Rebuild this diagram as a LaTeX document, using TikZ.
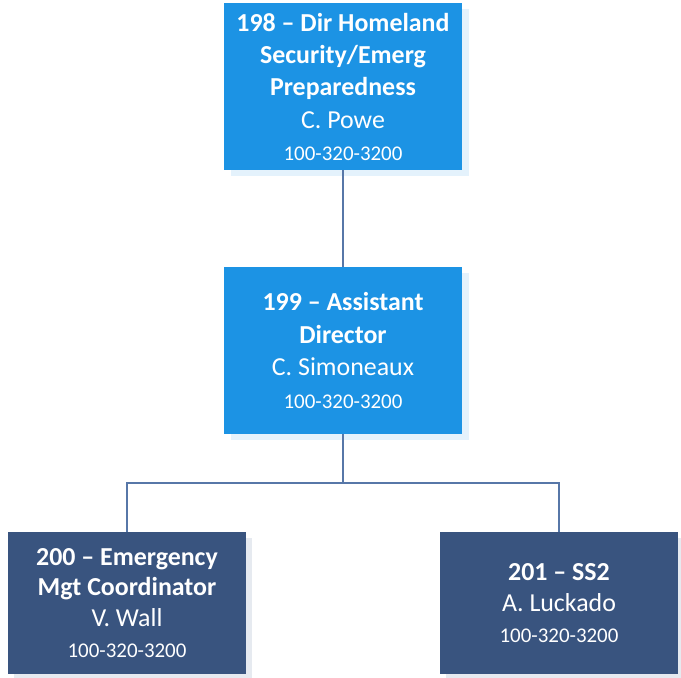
\documentclass[tikz,border=0pt]{standalone}
\usepackage{fontspec}
\setmainfont{Carlito}
\usetikzlibrary{shadows}
\definecolor{lightbox}{HTML}{1C93E4}
\definecolor{darkbox}{HTML}{39547F}
\definecolor{lightshade}{HTML}{E4F2FC}
\definecolor{darkshade}{HTML}{E6EAF0}
\definecolor{wire}{HTML}{5777A8}
\tikzset{
  unit/.style={rectangle, inner sep=0pt, text=white, align=center,
    minimum width=238.5bp, minimum height=166.5bp,
    font=\fontsize{26}{32.5}\selectfont},
  upper/.style={unit, fill=lightbox,
    general shadow={fill=lightshade, shadow xshift=7bp, shadow yshift=-6bp}},
  lower/.style={unit, fill=darkbox, minimum height=142.5bp,
    font=\fontsize{26}{31}\selectfont,
    general shadow={fill=darkshade, shadow xshift=6bp, shadow yshift=-6bp}},
  wirestyle/.style={draw=wire, line width=1.2bp}
}
\newcommand{\phone}[1]{{\fontsize{21}{31}\selectfont #1}}
\begin{document}
\begin{tikzpicture}[x=1bp,y=-1bp]
\useasboundingbox (0,0) rectangle (681,678);
% connectors
\coordinate (split) at (343,483);
\coordinate (lturn) at (127,483);
\coordinate (rturn) at (559,483);
\node[upper] (dir) at (343,86.75) {\textbf{198 – Dir Homeland}\\\textbf{Security/Emerg}\\\textbf{Preparedness}\\C. Powe\\\phone{100-320-3200}};
\node[upper] (asst) at (343,350.5) {\textbf{199 – Assistant}\\\textbf{Director}\\C. Simoneaux\\\phone{100-320-3200}};
\node[lower] (emc) at (127,603) {\textbf{200 – Emergency}\\\textbf{Mgt Coordinator}\\V. Wall\\\phone{100-320-3200}};
\node[lower] (ss) at (559,603) {\textbf{201 – SS2}\\A. Luckado\\\phone{100-320-3200}};
\draw[wirestyle] (dir.south) -- (asst.north);
\draw[wirestyle] (asst.south) -- (split);
\draw[wirestyle] (emc.north) -- (lturn) -- (rturn) -- (ss.north);
\end{tikzpicture}
\end{document}
